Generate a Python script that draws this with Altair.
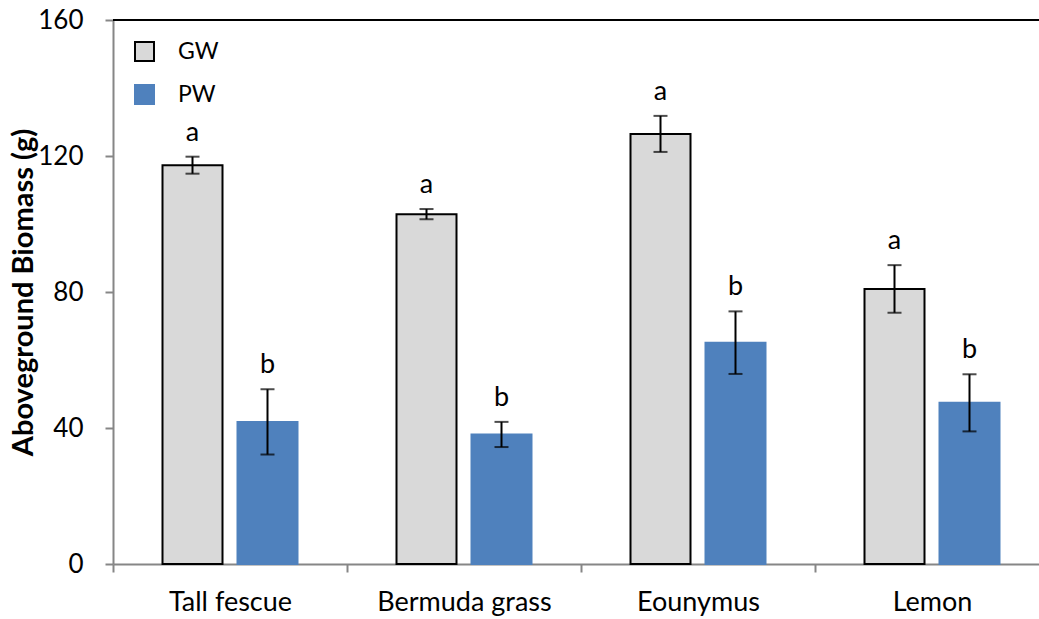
import altair as alt
import pandas as pd

# Aboveground biomass by plant species under two water treatments
species = ["Tall fescue", "Bermuda grass", "Eounymus", "Lemon"]
treatments = ["GW", "PW"]

gw_mean = [117.3, 102.9, 126.5, 80.9]
gw_err = [2.5, 1.5, 5.3, 7.0]
gw_letter = ["a", "a", "a", "a"]

pw_mean = [41.8, 38.1, 65.1, 47.4]
pw_err = [9.6, 3.7, 9.2, 8.4]
pw_letter = ["b", "b", "b", "b"]

y_ticks = [0, 40, 80, 120, 160]

rows = []
for i, sp in enumerate(species):
    rows.append({"species": sp, "trt": "GW", "mean": gw_mean[i],
                 "lower": gw_mean[i] - gw_err[i], "upper": gw_mean[i] + gw_err[i],
                 "letter": gw_letter[i]})
    rows.append({"species": sp, "trt": "PW", "mean": pw_mean[i],
                 "lower": pw_mean[i] - pw_err[i], "upper": pw_mean[i] + pw_err[i],
                 "letter": pw_letter[i]})
df = pd.DataFrame(rows)

FONT = "Lato"

x_enc = alt.X("species:N", sort=species, title=None,
              scale=alt.Scale(paddingInner=0, paddingOuter=0),
              axis=alt.Axis(tickBand="extent", labelAngle=0, labelFontSize=27,
                            labelColor="black", labelPadding=17, tickSize=8,
                            tickColor="#868686", tickWidth=2,
                            domainColor="#868686", domainWidth=2))
xoff = alt.XOffset("trt:N", sort=treatments,
                   scale=alt.Scale(paddingInner=0.2, paddingOuter=0.66))
y_scale = alt.Scale(domain=[0, 160], nice=False)

base = alt.Chart(df)

bars = base.mark_bar(strokeWidth=2).encode(
    x=x_enc,
    xOffset=xoff,
    y=alt.Y("mean:Q", scale=y_scale, title="Aboveground Biomass (g)",
            axis=alt.Axis(values=y_ticks, grid=False, labelFontSize=26,
                          labelColor="black", labelPadding=22, tickSize=8,
                          tickColor="#868686", tickWidth=2,
                          domainColor="#868686", domainWidth=2,
                          titleFontSize=29, titleFontWeight="bold",
                          titleColor="black", titleAngle=-90,
                          titleX=-90, titleY=272, titleAlign="center",
                          titleBaseline="middle")),
    color=alt.Color("trt:N", sort=treatments,
                    scale=alt.Scale(domain=treatments, range=["#d9d9d9", "#4f81bd"]),
                    legend=alt.Legend(title=None, orient="none", legendX=20,
                                      legendY=20)),
    stroke=alt.Stroke("trt:N", sort=treatments,
                      scale=alt.Scale(domain=treatments, range=["black", "#4f81bd"]),
                      legend=alt.Legend(title=None, orient="none", legendX=20,
                                        legendY=20)),
)

err = base.mark_rule(color="black", strokeWidth=2).encode(
    x=alt.X("species:N", sort=species),
    xOffset=xoff,
    y=alt.Y("lower:Q", scale=y_scale),
    y2="upper:Q",
)

caps = base.transform_fold(["lower", "upper"], as_=["end", "val"]).mark_tick(
    color="black", size=14, thickness=2
).encode(
    x=alt.X("species:N", sort=species),
    xOffset=xoff,
    y=alt.Y("val:Q", scale=y_scale),
)

letters = base.mark_text(fontSize=27, font=FONT, color="black",
                         baseline="alphabetic", dy=-16).encode(
    x=alt.X("species:N", sort=species),
    xOffset=xoff,
    y=alt.Y("upper:Q", scale=y_scale),
    text="letter:N",
)

top_line = alt.Chart(pd.DataFrame({"top": [y_ticks[-1]]})).mark_rule(
    color="black", strokeWidth=2
).encode(y=alt.Y("top:Q", scale=y_scale))

chart = alt.layer(bars, err, caps, letters, top_line).properties(
    width=936, height=544,
    autosize=alt.AutoSizeParams(type="none"),
    padding={"left": 113, "top": 20, "right": -10, "bottom": 55},
).configure(
    font=FONT,
).configure_view(
    stroke=None,
).configure_legend(
    symbolType="square", symbolSize=361, symbolStrokeWidth=2,
    labelFontSize=23, labelColor="black", labelOffset=22,
    rowPadding=16, padding=0,
)

chart.save("out.html", embed_options={"renderer": "svg", "actions": False})
